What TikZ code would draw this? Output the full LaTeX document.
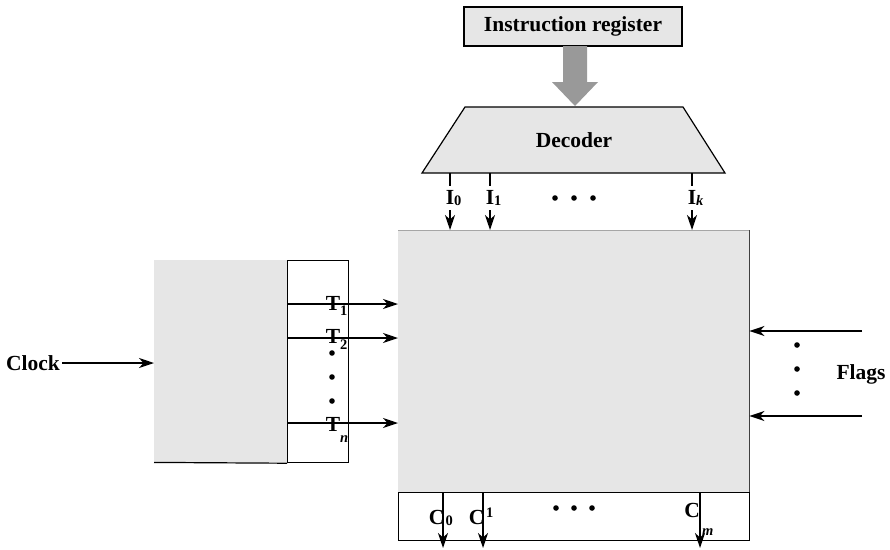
\documentclass[tikz,border=0pt]{standalone}
\usepackage{fontspec}
\setmainfont{Liberation Serif}
\usetikzlibrary{arrows.meta}
\definecolor{boxgray}{HTML}{E6E6E6}
\definecolor{arrgray}{HTML}{999999}
\newcommand\subtxt[2]{\fontsize{14.5}{15}\selectfont\bfseries\raisebox{#1}{#2}}
\begin{document}
\begin{tikzpicture}[x=1pt,y=-1pt,
  lbl/.style={font=\fontsize{21.5}{23}\selectfont\bfseries, inner sep=0pt},
  sublbl/.style={font=\fontsize{14.5}{15}\selectfont\bfseries, inner sep=0pt},
  wire/.style={line width=1.8pt, -{Stealth[length=15pt,width=10pt,inset=4.5pt]}},
  frame/.style={draw, line width=1.2pt, inner sep=0pt},
  dotmark/.style={fill=black, draw=none},
  boxfill/.style={fill=boxgray, draw=none, inner sep=0pt}]
\useasboundingbox (0,0) rectangle (890,549);

% instruction register
\node[frame, fill=boxgray, minimum width=218pt, minimum height=39pt, lbl] (ir) at (573,26.5) {Instruction register};
% wide grey arrow
\fill[arrgray] (563,46) -- (587,46) -- (587,82) -- (598,82) -- (575,106) -- (552,82) -- (563,82) -- cycle;

% decoder
\draw[line width=1.2pt, fill=boxgray] (465,107) -- (683,107) -- (725,173) -- (422,173) -- cycle;
\node[lbl] (dec) at (574,140) {Decoder};

% control unit
\node[boxfill, minimum width=351pt, minimum height=262pt, anchor=north west] (cu) at (398,230) {};
\draw[black!35, line width=1pt] (cu.north west) -- (cu.north east);
\draw[black!75, line width=1.2pt] (cu.north east) -- (cu.south east);
\node[frame, minimum width=351pt, minimum height=48pt, anchor=north west] (cb) at (398,492) {};

% decoder outputs
\coordinate (i0) at (450,173);
\coordinate (i1) at (490,173);
\coordinate (ik) at (692,173);
\draw[wire] (i0) -- (i0 |- cu.north);
\draw[wire] (i1) -- (i1 |- cu.north);
\draw[wire] (ik) -- (ik |- cu.north);
\node[lbl, fill=white, minimum height=24pt] (li0) at (450,198) {I\rlap{\subtxt{-1.5pt}{0}}};
\node[lbl, fill=white, minimum height=24pt] (li1) at (490,198) {I\rlap{\subtxt{-1.5pt}{1}}};
\node[lbl, fill=white, minimum height=24pt] (lik) at (692,198) {I\rlap{\subtxt{-1.5pt}{\itshape k}}};
\foreach \x in {555,574,593} \fill[dotmark] (\x,198) circle (2.8pt);

% timing generator
\node[boxfill, minimum width=133pt, minimum height=202pt, anchor=north west] (clk) at (154,260) {};
\node[frame, minimum width=61pt, minimum height=202pt, anchor=north west] (tb) at (287,260) {};
\draw[line width=1.2pt] (clk.south west) -- (tb.south west);

\coordinate (t1) at (287,304);
\coordinate (t2) at (287,338);
\coordinate (tn) at (287,423);
\draw[wire] (t1) -- (t1 -| cu.west);
\draw[wire] (t2) -- (t2 -| cu.west);
\draw[wire] (tn) -- (tn -| cu.west);
\node[lbl, anchor=base] (lt1) at (333,310) {T\rlap{\subtxt{-5pt}{1}}};
\node[lbl, anchor=base] (lt2) at (333,343) {T\rlap{\subtxt{-6pt}{2}}};
\node[lbl, anchor=base] (ltn) at (333,431) {T\rlap{\subtxt{-11pt}{\itshape n}}};
\foreach \y in {353,377,401} \fill[dotmark] (332,\y) circle (2.8pt);

% clock
\node[lbl, anchor=east] (clock) at (60,363) {Clock};
\draw[wire] ([xshift=2pt]clock.east) -- (clock.east -| clk.west);

% flags
\coordinate (f1) at (862,331);
\coordinate (f2) at (862,416);
\draw[wire] (f1) -- (f1 -| cu.east);
\draw[wire] (f2) -- (f2 -| cu.east);
\foreach \y in {345,369,393} \fill[dotmark] (797,\y) circle (2.8pt);
\node[lbl] (flags) at (861,374) {Flags};

% control signals
\coordinate (c0) at (443,548);
\coordinate (c1) at (483,548);
\coordinate (cm) at (700,548);
\draw[wire] (c0 |- cu.south) -- (c0);
\draw[wire] (c1 |- cu.south) -- (c1);
\draw[wire] (cm |- cu.south) -- (cm);
\node[lbl, anchor=base east] (lc0) at (444.5,524) {C};
\node[sublbl, anchor=base west] (lc0s) at (445.5,525) {0};
\node[lbl, anchor=base east] (lc1) at (484.5,524) {C};
\node[sublbl, anchor=base west] (lc1s) at (486,517) {1};
\node[lbl, anchor=base east] (lcm) at (700,517) {C};
\node[sublbl, anchor=base west, font=\fontsize{14.5}{15}\selectfont\bfseries\itshape] (lcms) at (702,535) {m};
\foreach \x in {556,574,592} \fill[dotmark] (\x,508) circle (2.8pt);
\end{tikzpicture}
\end{document}
